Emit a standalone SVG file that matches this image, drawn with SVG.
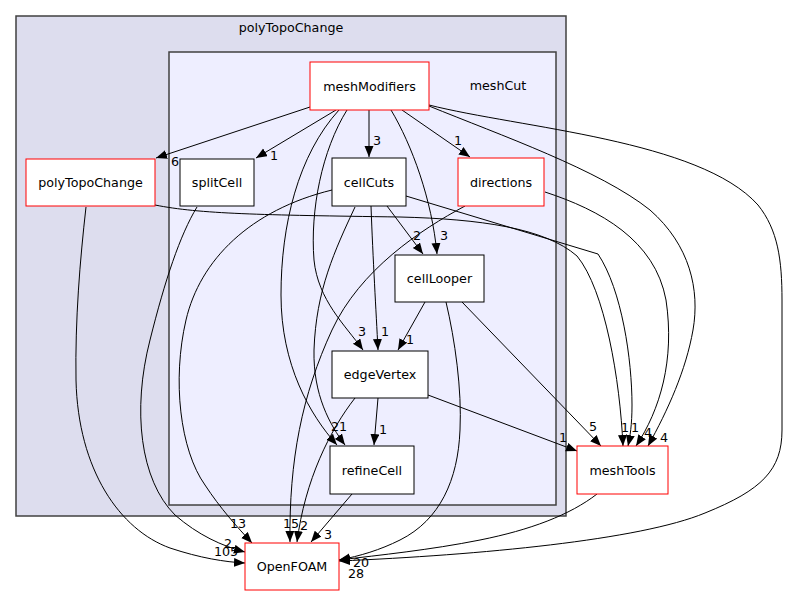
<svg xmlns="http://www.w3.org/2000/svg" width="788" height="596" viewBox="0 0 788 596">
<style>
text{font-family:"DejaVu Sans",sans-serif;font-size:12.7px;fill:#000}
.c{text-anchor:middle}
.n rect{fill:#fff;stroke:#000;stroke-width:1}
.r rect{stroke:#ff0000}
.e path{fill:none;stroke:#000;stroke-width:1;marker-end:url(#a)}
</style>
<defs>
<marker id="a" markerWidth="12" markerHeight="10" refX="11" refY="4.5" orient="auto" markerUnits="userSpaceOnUse"><path d="M0,0 L11,4.5 L0,9 z" fill="#000"/></marker>
</defs>
<rect width="788" height="596" fill="#fff"/>
<g id="cluster_polyTopoChange">
<rect x="16" y="16" width="550" height="500" fill="#ddddee" stroke="#404040" stroke-width="1.5"/>
<text class="c" x="291" y="32">polyTopoChange</text>
</g>
<g id="cluster_meshCut">
<rect x="169" y="52" width="387" height="453" fill="#eeeeff" stroke="#404040" stroke-width="1.5"/>
<text class="c" x="498" y="90">meshCut</text>
</g>
<g id="edges" class="e">
<path d="M310,107 L156,158"/>
<path d="M336,110 L256,158"/>
<path d="M369,110 L369,157"/>
<path d="M402,110 L470,157"/>
<path d="M391,110 C412,145 432,200 437,254"/>
<path d="M347,110 C322,150 310,210 314,260 C318,300 345,325 363,350"/>
<path d="M339,110 C298,155 281,225 281,295 C281,365 310,415 337,445"/>
<path d="M429,106 C500,135 600,170 650,210 C690,245 700,290 693,330 C686,370 668,410 648,446"/>
<path d="M429,105 C520,128 700,140 758,205 C778,230 782,260 782,300 L782,430 C782,470 762,490 705,513 C640,540 480,555 339,561"/>
<path d="M155,205 C200,214 260,215 400,217 C480,219 545,228 577,256 C605,290 620,380 623,446"/>
<path d="M86,207 C80,260 75,320 76,380 C78,470 120,530 170,548 C200,558 225,562 245,563"/>
<path d="M197,207 C180,235 165,280 150,340 C132,410 140,480 175,515 C198,535 222,546 245,552"/>
<path d="M332,190 C250,210 200,260 186,320 C172,380 180,450 205,485 C220,508 238,528 252,543"/>
<path d="M387,206 L423,254"/>
<path d="M371,206 C373,260 376,310 378,350"/>
<path d="M355,207 C335,250 316,290 314,350 C313,395 330,425 345,445"/>
<path d="M406,196 L598,254 C622,290 632,360 632,405 C632,425 630,437 628,446"/>
<path d="M545,192 C600,210 655,240 666,300 C675,360 660,410 636,446"/>
<path d="M465,206 C420,230 360,270 332,330 C302,395 289,460 290,542"/>
<path d="M425,302 L398,350"/>
<path d="M462,302 L601,446"/>
<path d="M446,302 C455,340 462,390 460,430 C458,480 440,520 400,540 C380,550 360,556 339,560"/>
<path d="M378,398 L374,445"/>
<path d="M428,395 L577,451"/>
<path d="M355,398 C330,430 305,480 297,542"/>
<path d="M352,494 L311,542"/>
<path d="M597,494 C570,515 530,530 480,540 C430,550 380,555 339,560"/>
</g>
<g id="edge_labels">
<text class="c" x="175" y="166">6</text>
<text class="c" x="274" y="160">1</text>
<text class="c" x="377" y="145">3</text>
<text class="c" x="458" y="145">1</text>
<text class="c" x="417" y="240">2</text>
<text class="c" x="444" y="240">3</text>
<text class="c" x="362" y="336">3</text>
<text class="c" x="385" y="336">1</text>
<text class="c" x="410" y="344">1</text>
<text class="c" x="335" y="431">2</text>
<text class="c" x="343" y="431">1</text>
<text class="c" x="383" y="434">1</text>
<text class="c" x="593" y="431">5</text>
<text class="c" x="563" y="442">1</text>
<text class="c" x="625" y="432">1</text>
<text class="c" x="635" y="432">1</text>
<text class="c" x="648" y="437">4</text>
<text class="c" x="664" y="442">4</text>
<text class="c" x="238" y="528">13</text>
<text class="c" x="291" y="528">15</text>
<text class="c" x="304" y="530">2</text>
<text class="c" x="328" y="539">3</text>
<text class="c" x="228" y="548">2</text>
<text class="c" x="226" y="556">105</text>
<text class="c" x="361" y="567">20</text>
<text class="c" x="356" y="578">28</text>
</g>
<g id="node_meshModifiers" class="n r"><rect x="310" y="62" width="119" height="48"/><text class="c" x="369.5" y="90.5">meshModifiers</text></g>
<g id="node_polyTopoChange" class="n r"><rect x="26" y="159" width="129" height="47"/><text class="c" x="90.5" y="187">polyTopoChange</text></g>
<g id="node_splitCell" class="n"><rect x="180" y="159" width="74" height="47"/><text class="c" x="217" y="187">splitCell</text></g>
<g id="node_cellCuts" class="n"><rect x="332" y="158" width="74" height="48"/><text class="c" x="369" y="187">cellCuts</text></g>
<g id="node_directions" class="n r"><rect x="458" y="158" width="86" height="48"/><text class="c" x="501" y="187">directions</text></g>
<g id="node_cellLooper" class="n"><rect x="395" y="255" width="89" height="47"/><text class="c" x="439.5" y="283">cellLooper</text></g>
<g id="node_edgeVertex" class="n"><rect x="332" y="351" width="96" height="47"/><text class="c" x="380" y="379">edgeVertex</text></g>
<g id="node_refineCell" class="n"><rect x="330" y="446" width="84" height="48"/><text class="c" x="372" y="475">refineCell</text></g>
<g id="node_meshTools" class="n r"><rect x="577" y="446" width="91" height="48"/><text class="c" x="622.5" y="475">meshTools</text></g>
<g id="node_OpenFOAM" class="n r"><rect x="245" y="543" width="94" height="47"/><text class="c" x="292" y="571">OpenFOAM</text></g>
</svg>
